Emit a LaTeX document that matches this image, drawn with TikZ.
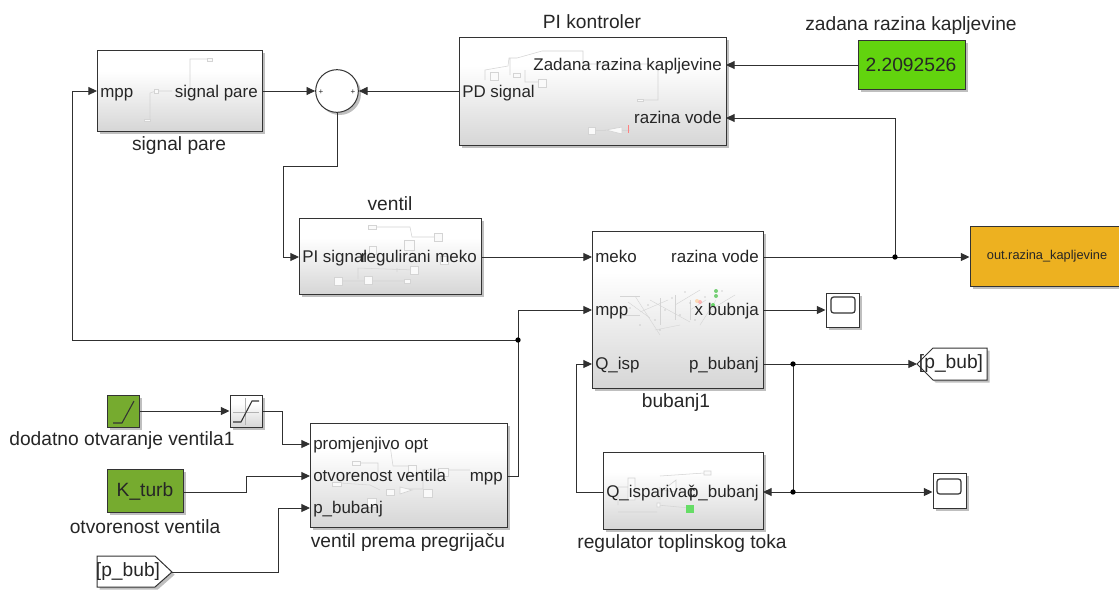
\documentclass[tikz,border=0pt]{standalone}
\usepackage{fontspec}
\setmainfont{Liberation Sans}
\usetikzlibrary{arrows.meta,shadows,calc}
\definecolor{txt}{HTML}{262626}
\definecolor{wire}{HTML}{303030}
\definecolor{edge}{HTML}{333333}
\definecolor{ghostc}{HTML}{D4D4D4}
\definecolor{shadebot}{HTML}{D6D6D6}
\definecolor{constgreen}{HTML}{62D40E}
\definecolor{dkgreen}{HTML}{76AB2F}
\definecolor{outorange}{HTML}{EDB120}
\definecolor{dotgreen}{HTML}{66DD66}
\pgfdeclareverticalshading{simblock}{100bp}{color(0bp)=(shadebot); color(25bp)=(shadebot); color(62bp)=(white); color(100bp)=(white)}
\tikzset{
  blockshadow/.style={drop shadow={shadow xshift=2pt,shadow yshift=-2pt,fill=black,opacity=0.25}},
  sub/.style={draw=edge,line width=0.75pt,shading=simblock,blockshadow,inner sep=0pt},
  plain/.style={draw=edge,line width=0.75pt,fill=white,blockshadow,inner sep=0pt},
  solid fillblk/.style={draw=edge,line width=0.75pt,blockshadow,inner sep=0pt},
  lbl/.style={font=\fontsize{14.4pt}{16pt}\selectfont,text=txt,inner sep=0pt},
  port/.style={font=\fontsize{12.7pt}{14pt}\selectfont,text=txt,inner sep=0pt,yshift=-1.2pt},
  wirestyle/.style={draw=wire,line width=0.7pt},
  arr/.style={wirestyle,-{Triangle[length=6.5pt,width=6pt]}},
  junction/.style={circle,fill=black,inner sep=0pt,minimum size=4pt},
  ghost/.style={draw=ghostc,line width=0.4pt},
  ghostb/.style={draw=ghostc,line width=0.5pt,fill=white!96!gray},
}
\newcommand{\blk}[6]{%
  \pgfmathsetmacro{\bw}{(#4-#2)*0.75}\pgfmathsetmacro{\bh}{(#5-#3)*0.75}%
  \node[#6,minimum width=\bw pt,minimum height=\bh pt] (#1) at ({(#2+#4)/2},{(#3+#5)/2}) {};}
\begin{document}
\begin{tikzpicture}[x=0.75pt,y=-0.75pt]
\useasboundingbox (0,0) rectangle (1119,590);
% blocks
\blk{sigpare}{97}{50}{262}{131}{sub}
\blk{pikon}{459}{37}{726}{145}{sub}
\blk{ventil}{299}{218}{481}{294}{sub}
\blk{bubanj}{592}{231}{763}{388}{sub}
\blk{vpp}{310}{423}{507}{527}{sub}
\blk{reg}{603}{452}{763}{529}{sub}
\blk{const}{858}{40}{965}{89}{solid fillblk,fill=constgreen}
\blk{ramp}{107}{395}{139}{427}{solid fillblk,fill=dkgreen}
\blk{kturb}{107}{469}{183}{512}{solid fillblk,fill=dkgreen}
\blk{sat}{230}{395}{262}{427}{sub}
\blk{scopeA}{826}{293}{859}{327}{plain}
\blk{scopeB}{933}{473}{966}{508}{plain}
\blk{outb}{970}{226}{1128}{286}{solid fillblk,fill=outorange}
\node[circle,plain,minimum size=32pt] (sum) at (337,91) {};
\draw[plain] (97,556) -- (155,556) -- (172,572) -- (155,587) -- (97,587) -- cycle;
\draw[plain] (917,364) -- (933,348) -- (987,348) -- (987,380) -- (933,380) -- cycle;
\coordinate (fromTip) at (172,572);
\coordinate (gotoTip) at (917,364);
% icons
\draw[line width=0.8pt,draw=edge] (113,423) -- (122,423) -- (134,401);
\draw[line width=0.4pt,draw=gray!60] (245,398) -- (245,425) (233,412) -- (259,412);
\draw[line width=0.8pt,draw=edge] (233,422) -- (241,422) -- (252,401) -- (259,401);
\draw[line width=0.9pt,draw=edge,rounded corners=2pt] (831,297) rectangle (855,313);
\draw[line width=0.9pt,draw=edge,rounded corners=2pt] (937,479) rectangle (961,494);
% ghost content
\draw[ghost] (150,120) -- (150,93) -- (156,91) -- (172,91) (190,91) -- (190,59) -- (207,59);
\draw[ghostb] (154,89) rectangle (158,93) (144,119) rectangle (150,121) (207,58) rectangle (212,61);
\draw[ghost] (372,227) -- (410,227) -- (412,237) -- (434,237) (338,281) -- (404,281) (358,279) -- (358,268) -- (414,270) (397,268) -- (397,272);
\draw[ghostb] (368,225) rectangle (376,229) (434,233) rectangle (442,241) (369,246) rectangle (376,254) (404,240) rectangle (414,250) (410,266) rectangle (418,274) (334,277) rectangle (342,285) (364,276) rectangle (372,284) (404,279) rectangle (410,283) (440,256) rectangle (448,264);
\draw[ghost] (485,80) -- (485,70) -- (508,66) -- (509,58) -- (517,58) (517,58) -- (542,51) -- (583,51) -- (583,64) -- (658,64) -- (658,100) -- (640,100) (510,58) -- (510,75) (525,70) -- (525,82) -- (542,82);
\draw[ghostb] (490,72) rectangle (498,80) (513,73) rectangle (520,77) (538,79) rectangle (546,87) (637,99) rectangle (643,101) (588,127) rectangle (595,134);
\draw[ghostb] (606,130) -- (622,127) -- (622,134) -- cycle;
\draw[ghost] (595,130) -- (606,130) (622,130) -- (630,130);
\draw[draw=red!50,line width=0.3pt] (628,125) -- (628,133);
\draw[ghost] (358,463) -- (378,463) -- (378,473) (390,445) -- (393,466) -- (412,466) (340,483) -- (370,485) -- (380,490) (402,489) -- (423,489) -- (423,470) -- (470,470);
\draw[ghostb] (352,461) rectangle (360,465) (332,482) rectangle (341,486) (386,489) rectangle (394,495) (408,465) rectangle (416,475) (423,489) rectangle (432,497) (367,498) rectangle (376,507) (438,468) rectangle (448,476);
\draw[ghostb] (400,487) -- (412,490) -- (400,494) -- cycle;
\draw[ghost] (618,505) -- (618,487) -- (630,487) (660,500) -- (660,487) (660,476) -- (704,473) (618,512) -- (657,512) (657,505) -- (690,508);
\draw[ghostb] (628,478) rectangle (635,500) (663,490) -- (676,480) -- (676,492) -- cycle (704,471) rectangle (711,475) (657,503) rectangle (660,507);
\fill[dotgreen] (686,505) rectangle (694,513);
\foreach \a/\b/\c/\d in {620/296/640/296, 628/302/650/318, 640/312/668/300, 650/300/690/322, 675/305/700/290, 690/320/690/300, 655/330/680/325, 690/310/706/300, 635/296/660/335, 710/310/735/295, 700/325/716/300, 620/315/640/315, 660/298/660/325, 675/295/675/320}{\draw[draw=ghostc,line width=0.3pt] (\a,\b) -- (\c,\d);}
\foreach \a/\b in {648/305,655/320,665/310,672/298,680/315,690/303,640/325,630/308,660/330,685/292,695/320,705/297,722/291}{\fill[gray!70] (\a,\b) circle (0.4pt);}
\foreach \a/\b/\c in {716/291/green!50!gray,716/296/green!50!gray,713/305/green!60!gray,700/302/red!40,697/301/orange!40}{\fill[\c,opacity=.7] (\a,\b) circle (1.5pt);}
% sum signs
\node[font=\fontsize{6pt}{6pt}\selectfont,inner sep=0pt,text=txt] (sumL) at (321,92) {+};
\node[font=\fontsize{6pt}{6pt}\selectfont,inner sep=0pt,text=txt] (sumR) at (353,92) {+};
% port labels
\node[port,anchor=mid west] (p1) at (100,92) {mpp};
\node[port,anchor=mid east] (p2) at (258,92) {signal pare};
\node[port,anchor=mid west] (p3) at (462,92) {PD signal};
\node[port,anchor=mid east] (p4) at (722,65) {Zadana razina kapljevine};
\node[port,anchor=mid east] (p5) at (722,118) {razina vode};
\node[port,anchor=mid west] (p6) at (302,257) {PI signal};
\node[port,anchor=mid east] (p7) at (477,257) {regulirani meko};
\node[port,anchor=mid west] (p8) at (595,257) {meko};
\node[port,anchor=mid west] (p9) at (595,310) {mpp};
\node[port,anchor=mid west] (p10) at (595,364) {Q\_isp};
\node[port,anchor=mid east] (p11) at (759,257) {razina vode};
\node[port,anchor=mid east] (p12) at (759,310) {x bubnja};
\node[port,anchor=mid east] (p13) at (759,364) {p\_bubanj};
\node[port,anchor=mid west] (p14) at (313,444) {promjenjivo opt};
\node[port,anchor=mid west] (p15) at (313,476) {otvorenost ventila};
\node[port,anchor=mid west] (p16) at (313,508) {p\_bubanj};
\node[port,anchor=mid east] (p17) at (503,476) {mpp};
\node[port,anchor=mid west] (p18) at (606,492) {Q\_isparivač};
\node[port,anchor=mid east] (p19) at (759,492) {p\_bubanj};
% block text
\node[lbl] (t1) at (911,65) {2.2092526};
\node[lbl] (t2) at (145,491) {K\_turb};
\node[lbl] (t3) at (128,572) {[p\_bub]};
\node[lbl] (t4) at (951,364) {[p\_bub]};
\node[inner sep=0pt,text=txt,font=\fontsize{9.6pt}{11pt}\selectfont] (t5) at (1047,256) {out.razina\_kapljevine};
% captions
\node[lbl] (c1) at (179,146) {signal pare};
\node[lbl] (c2) at (592,22) {PI kontroler};
\node[lbl] (c3) at (911,26) {zadana razina kapljevine};
\node[lbl] (c4) at (390,204) {ventil};
\node[lbl] (c5) at (676,403) {bubanj1};
\node[lbl] (c6) at (122,441) {dodatno otvaranje ventila1};
\node[lbl] (c7) at (145,527) {otvorenost ventila};
\node[lbl] (c8) at (408,542) {ventil prema pregrijaču};
\node[lbl] (c9) at (682,544) {regulator toplinskog toka};
% ports on edges
\coordinate (jA) at (895,257);
\coordinate (jB) at (793,364);
\coordinate (jC) at (793,492);
\coordinate (jD) at (518,340);
\coordinate (piIn1) at (726,65);
\coordinate (piIn2) at (726,118);
\coordinate (piOut) at (459,91);
\coordinate (venIn) at (299,257);
\coordinate (venOut) at (481,257);
\coordinate (bIn1) at (592,257);
\coordinate (bIn2) at (592,310);
\coordinate (bIn3) at (592,364);
\coordinate (bOut1) at (763,257);
\coordinate (bOut2) at (763,310);
\coordinate (bOut3) at (763,364);
\coordinate (vIn1) at (310,444);
\coordinate (vIn2) at (310,476);
\coordinate (vIn3) at (310,508);
\coordinate (vOut) at (507,476);
\coordinate (rIn) at (763,492);
\coordinate (rOut) at (603,492);
\coordinate (spIn) at (97,91);
\coordinate (spOut) at (262,91);
\coordinate (constOut) at (858,65);
\coordinate (kOut) at (183,492);
\coordinate (satOut) at (262,411);
% wires
\draw[arr] (spOut) -- (sum.west);
\draw[arr] (piOut) -- (sum.east);
\draw[arr] (constOut) -- (piIn1);
\draw[arr] (jA) -- (895,118) -- (piIn2);
\draw[arr] (sum.south) -- (337,166) -- (283,166) -- (283,257) -- (venIn);
\draw[arr] (venOut) -- (bIn1);
\draw[wirestyle] (bOut1) -- (jA);
\draw[arr] (jA) -- (outb.west |- jA);
\draw[arr] (bOut2) -- (scopeA.west |- bOut2);
\draw[wirestyle] (bOut3) -- (jB);
\draw[arr] (jB) -- (gotoTip);
\draw[wirestyle] (jB) -- (jC);
\draw[arr] (jC) -- (rIn);
\draw[arr] (jC) -- (scopeB.west |- jC);
\draw[arr] (rOut) -- (576,492) -- (576,364) -- (bIn3);
\draw[wirestyle] (vOut) -- (518,476) -- (jD);
\draw[arr] (jD) -- (518,310) -- (bIn2);
\draw[arr] (jD) -- (72,340) -- (72,91) -- (spIn);
\draw[arr] (ramp.east |- sat.west) -- (sat.west);
\draw[arr] (satOut) -- (282,411) -- (282,444) -- (vIn1);
\draw[arr] (kOut) -- (246,492) -- (246,476) -- (vIn2);
\draw[arr] (fromTip) -- (278,572) -- (278,508) -- (vIn3);
\node[junction] (dA) at (jA) {};
\node[junction] (dB) at (jB) {};
\node[junction] (dC) at (jC) {};
\node[junction] (dD) at (jD) {};
\end{tikzpicture}
\end{document}
